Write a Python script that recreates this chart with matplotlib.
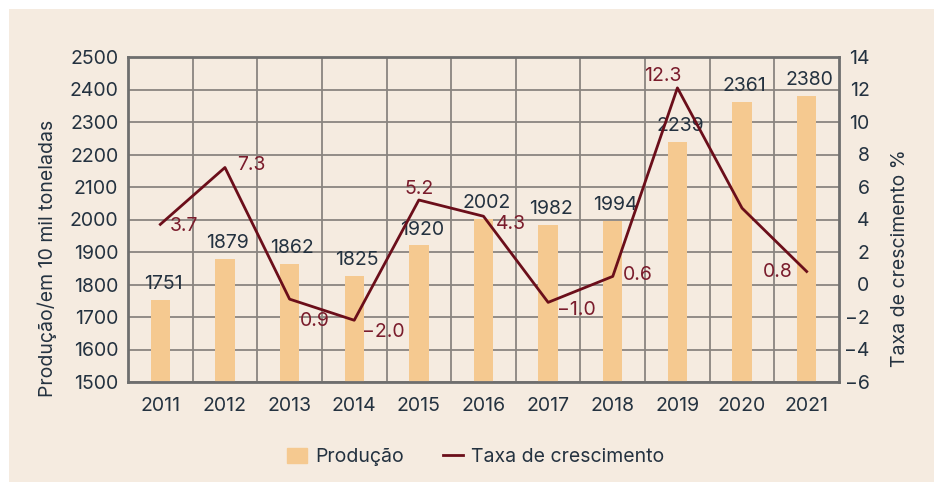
import matplotlib
matplotlib.use('Agg')
import matplotlib.pyplot as plt
import matplotlib.patches as mpatches
import matplotlib.lines as mlines

plt.rcParams['font.family'] = ['Inter', 'DejaVu Sans']

YEARS = ['2011', '2012', '2013', '2014', '2015', '2016',
         '2017', '2018', '2019', '2020', '2021']
PRODUCAO = [1751, 1879, 1862, 1825, 1920, 2002, 1982, 1994, 2239, 2361, 2380]
TAXA = [3.7, 7.2, -0.9, -2.2, 5.2, 4.2, -1.1, 0.5, 12.1, 4.7, 0.8]
# growth labels as printed (2020 has none)
TAXA_LABELS = ['3.7', '7.3', '0.9', '-2.0', '5.2', '4.3', '-1.0', '0.6', '12.3', '', '0.8']
# label offsets in pixels (dx, dy), dy positive = up
TAXA_OFFSETS = [(24, -2), (26, 2), (25, -22), (29, -12), (0, 11), (27, -8),
                (28, -8), (25, 1), (-15, 12), (0, 0), (-29, -1)]

BG = '#f5ebe0'
BAR_COLOR = '#f5c990'
LINE_COLOR = '#6b0e1a'
LABEL_RED = '#7a1c2c'
TEXT_COLOR = '#243240'
GRID_COLOR = '#8a8580'
SPINE_COLOR = '#6e6e6e'
FS = 14

fig = plt.figure(figsize=(9.34, 4.82), dpi=100)
fig.patch.set_facecolor('white')
fig.patches.append(mpatches.Rectangle((9 / 934, 0), 1, 1 - 9 / 482,
                                      transform=fig.transFigure,
                                      facecolor=BG, edgecolor='none', zorder=-10))

ax = fig.add_axes([128 / 934, 1 - 382 / 482, (839 - 128) / 934, (382 - 57) / 482])
ax.set_facecolor(BG)
x = list(range(len(YEARS)))

ax.bar(x, [p - 1500 for p in PRODUCAO], bottom=1500, width=0.3, color=BAR_COLOR, zorder=3)
for xi, p in zip(x, PRODUCAO):
    ax.annotate(str(p), (xi, p), xytext=(2, 11.5), textcoords='offset points',
                ha='center', va='center', fontsize=FS, color=TEXT_COLOR, zorder=6)

ax.set_xlim(-0.5, len(YEARS) - 0.5)
ax.set_ylim(1500, 2500)
ax.set_yticks(range(1500, 2501, 100))
ax.set_xticks(x)
ax.set_xticklabels(YEARS)
ax.set_xticks([i + 0.5 for i in x[:-1]], minor=True)
ax.grid(True, axis='y', which='major', color=GRID_COLOR, linewidth=1.3, zorder=0)
ax.grid(True, axis='x', which='minor', color=GRID_COLOR, linewidth=1.3, zorder=0)
ax.set_axisbelow(True)
ax.tick_params(axis='both', which='both', length=0, labelsize=FS, colors=TEXT_COLOR)
ax.tick_params(axis='y', pad=7)
ax.tick_params(axis='x', pad=11)
for s in ax.spines.values():
    s.set_color(SPINE_COLOR)
    s.set_linewidth(2)
    s.set_zorder(5)

ax2 = ax.twinx()
ax2.plot(x, TAXA, color=LINE_COLOR, linewidth=2, zorder=4)
for xi, t, lab, (dx, dy) in zip(x, TAXA, TAXA_LABELS, TAXA_OFFSETS):
    if lab:
        ax2.annotate(lab.replace('-', '\u2212'), (xi, t), xytext=(dx * 0.72, dy * 0.72),
                     textcoords='offset points', ha='center', va='center',
                     fontsize=FS, color=LABEL_RED, zorder=6)
ax2.set_ylim(-6, 14)
ax2.set_yticks(range(-6, 15, 2))
ax2.set_yticklabels([str(v).replace('-', '\u2212') for v in range(-6, 15, 2)])
ax2.tick_params(axis='y', length=0, labelsize=FS, colors=TEXT_COLOR, pad=22)
for lbl in ax2.get_yticklabels():
    lbl.set_horizontalalignment('right')
for s in ax2.spines.values():
    s.set_visible(False)

fig.text(47 / 934, 1 - 258 / 482, 'Produção/em 10 mil toneladas', rotation=90,
         ha='center', va='center', fontsize=FS, color=TEXT_COLOR)
fig.text(900 / 934, 1 - 258 / 482, 'Taxa de crescimento %', rotation=90,
         ha='center', va='center', fontsize=FS, color=TEXT_COLOR)

handles = [mpatches.Patch(color=BAR_COLOR, label='Produção'),
           mlines.Line2D([], [], color=LINE_COLOR, linewidth=2, label='Taxa de crescimento')]
leg = fig.legend(handles=handles, loc='center', bbox_to_anchor=(476 / 934, 1 - 457 / 482),
                 ncol=2, frameon=False, fontsize=FS, handlelength=1.0, handleheight=0.85,
                 columnspacing=2.0, handletextpad=0.45)
for t in leg.get_texts():
    t.set_color(TEXT_COLOR)

fig.savefig('out.png', dpi=100, facecolor=fig.get_facecolor())
